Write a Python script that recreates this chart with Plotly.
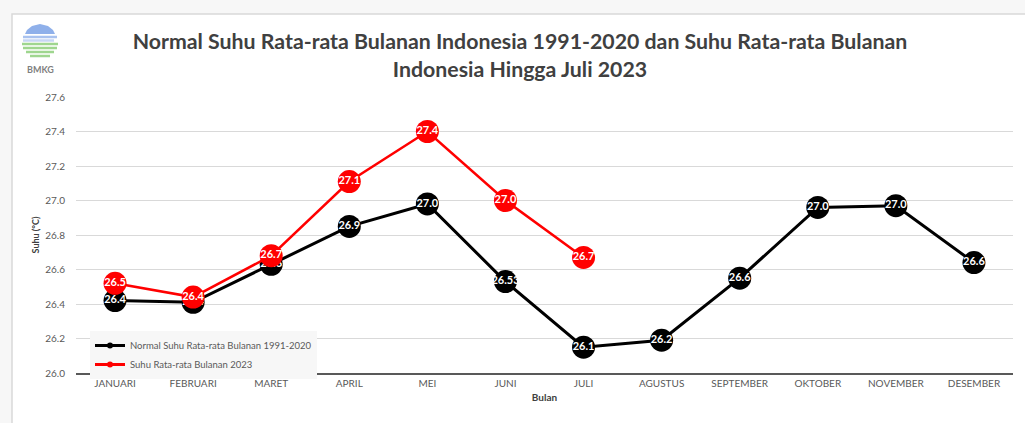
import plotly.graph_objects as go

months = ["JANUARI", "FEBRUARI", "MARET", "APRIL", "MEI", "JUNI", "JULI",
          "AGUSTUS", "SEPTEMBER", "OKTOBER", "NOVEMBER", "DESEMBER"]
normal_vals = [26.42, 26.41, 26.63, 26.85, 26.98, 26.53, 26.15, 26.19, 26.55, 26.96, 26.97, 26.64]
normal_labels = ["26.4", "26.4", "26.6", "26.9", "27.0", "26.53", "26.1", "26.2", "26.6", "27.0", "27.0", "26.6"]
months_2023 = months[:7]
vals_2023 = [26.52, 26.44, 26.68, 27.11, 27.40, 27.00, 26.67]
labels_2023 = ["26.5", "26.4", "26.7", "27.1", "27.4", "27.0", "26.7"]
y_ticks = [26.0, 26.2, 26.4, 26.6, 26.8, 27.0, 27.2, 27.4, 27.6]

name_normal = "Normal Suhu Rata-rata Bulanan 1991-2020"
name_2023 = "Suhu Rata-rata Bulanan 2023"
title = ("Normal Suhu Rata-rata Bulanan Indonesia 1991-2020 dan Suhu Rata-rata Bulanan"
         "<br>Indonesia Hingga Juli 2023")

FONT = "Lato, Open Sans, sans-serif"
W, H = 1025, 423
L, R, T, B = 76, 12, 97, 50
pw, ph = W - L - R, H - T - B


def px(x):
    return (x - L) / pw


def py(y):
    return (H - B - y) / ph


fig = go.Figure()

fig.add_trace(go.Scatter(
    x=months, y=normal_vals, mode="lines+markers+text", text=normal_labels,
    textposition="middle center",
    textfont=dict(color="white", size=11, family=FONT, weight="bold"),
    line=dict(color="black", width=3),
    marker=dict(color="black", size=23),
    showlegend=False, cliponaxis=False, hoverinfo="skip"))

fig.add_trace(go.Scatter(
    x=months_2023, y=vals_2023, mode="lines+markers+text", text=labels_2023,
    textposition="middle center",
    textfont=dict(color="white", size=11, family=FONT, weight="bold"),
    line=dict(color="#ff0000", width=2.5),
    marker=dict(color="#ff0000", size=23),
    showlegend=False, cliponaxis=False, hoverinfo="skip"))

fig.add_trace(go.Scatter(x=[None], y=[None], mode="lines+markers", name=name_normal,
                         line=dict(color="black", width=3), marker=dict(color="black", size=6)))
fig.add_trace(go.Scatter(x=[None], y=[None], mode="lines+markers", name=name_2023,
                         line=dict(color="#ff0000", width=3), marker=dict(color="#ff0000", size=6)))

shapes = [
    dict(type="rect", xref="paper", yref="paper", layer="below",
         x0=px(12), x1=px(1030), y0=py(14), y1=py(440),
         fillcolor="white", line=dict(color="#d9d9d9", width=1.5)),
]


def pth(points):
    return "M " + " L ".join(f"{px(a):.5f},{py(b):.5f}" for a, b in points) + " Z"


# simple BMKG logo: blue upper cap with stripes, green lower stripes
shapes.append(dict(type="path", xref="paper", yref="paper",
                   path=pth([(27, 30), (32, 26), (40, 24), (48, 26), (53, 30), (55, 34), (25, 34)]),
                   fillcolor="#8fb0ea", line=dict(width=0)))
for x0, x1, y, c in [(23, 57, 37, "#a9c2ef"), (23, 54, 40.5, "#c7d6f4"),
                     (22, 58, 44, "#9fd68f"), (23, 57, 48, "#9fd68f"),
                     (26, 54, 52, "#9fd68f"), (30, 50, 56, "#9fd68f")]:
    shapes.append(dict(type="line", xref="paper", yref="paper",
                       x0=px(x0), x1=px(x1), y0=py(y), y1=py(y),
                       line=dict(color=c, width=2.5)))

fig.update_layout(
    width=W, height=H,
    margin=dict(l=L, r=R, t=T, b=B, autoexpand=False),
    paper_bgcolor="#f7f7f7", plot_bgcolor="white",
    font=dict(family=FONT, color="#595959", size=10),
    title=dict(text="<b>" + title + "</b>", xref="paper", x=px(520), xanchor="center",
               y=1 - 49 / H, yanchor="middle",
               font=dict(size=21.3, color="#404040", family=FONT)),
    xaxis=dict(showgrid=False, showline=True, linecolor="#595959", linewidth=2,
               ticks="", tickfont=dict(size=10, color="#595959"),
               title=dict(text="<b>Bulan</b>", font=dict(size=10, color="#404040"), standoff=6),
               range=[-0.5, 11.5], fixedrange=True),
    yaxis=dict(range=[26.0, 27.6], tickvals=y_ticks, tickformat=".1f",
               showgrid=True, gridcolor="#d9d9d9", gridwidth=1, zeroline=False,
               showline=False, ticks="", tickfont=dict(size=10, color="#595959"),
               ticklabelstandoff=10,
               title=dict(text="<b>Suhu (°C)</b>", font=dict(size=9, color="#404040"), standoff=4)),
    legend=dict(x=px(90), y=py(331), xanchor="left", yanchor="top",
                bgcolor="#f7f7f7", font=dict(size=9.5, color="#595959"),
                tracegroupgap=0, itemwidth=30),
    shapes=shapes,
    annotations=[dict(text="<b>BMKG</b>", xref="paper", yref="paper",
                      x=px(40), y=py(69), showarrow=False, xanchor="center", yanchor="middle",
                      font=dict(size=9, color="#7f7f7f", family=FONT))],
)

fig.write_html("out.html", config={"displayModeBar": False},
               post_script="document.body.style.margin='0';")
